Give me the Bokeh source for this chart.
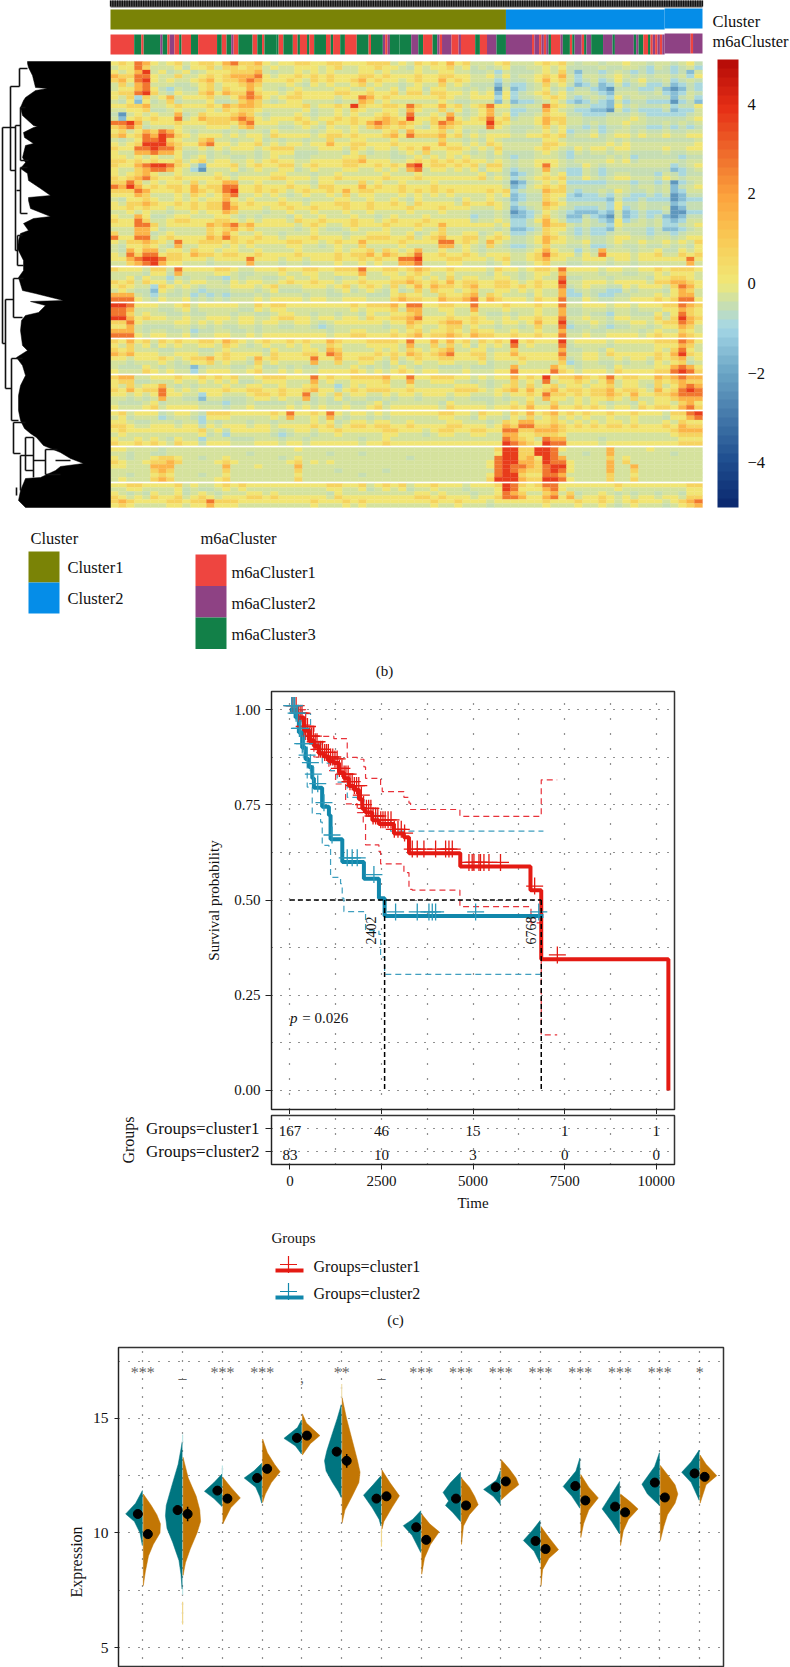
import math
import numpy as np
from bokeh.plotting import figure
from bokeh.embed import file_html
from bokeh.resources import INLINE
from bokeh.models import (Range1d, FixedTicker, LinearColorMapper, ColorBar, ColumnDataSource, Title)
from bokeh.core.properties import value

SERIF = "Liberation Serif"

# ---------- panel (b): heat map, read by eye on a coarse grid (one digit = one block) ----------
HEAT_LEVELS = [-2.2, -1.5, -1.0, -0.6, -0.35, 0.0, 0.8, 1.5, 2.6, 3.6]
HEAT_SECTIONS = [
 ["5658754564 5665786675 4556655665 5566645465 6575644456 4445656434 4344544344 3453",
  "4558644453 5564665664 5445554564 4556554354 5564534345 3344545333 3433443243 2342",
  "5457945345 3455566674 3445454544 4554544454 4554433424 3334546313 3234323233 2314",
  "7668854464 4565677785 4556565655 5665655565 5665544535 3445657424 4345434344 3425",
  "6758954544 5675667875 5565465655 6756554565 5756544424 3345756423 4235345334 2343",
  "4647844433 4564556764 4454354544 5645443454 4645433313 2234645312 3124234223 1232",
  "4557853243 3564655754 4345444455 4454453553 5544343404 1234534233 2103332231 0132",
  "5668964354 4675766865 5456555566 5565564664 6655454515 2345645344 3214443342 1243",
  "5462645745 5564457875 4566555545 5875655555 5654455525 2334565323 4325344333 1342",
  "4351534634 4453346764 3455444434 4764544444 4543344414 1223454212 3214233222 0231",
  "5566744565 5565767765 5555645565 9655665865 5756456855 3344865433 2215343334 2335",
  "4455633454 4454656654 4444534454 6544554754 4645345744 2233754322 1104232223 1224",
  "3045454473 4655567643 4445434454 5445654844 5474345745 2334655332 2233343222 2234",
  "4156565584 5766678754 5556545565 6556765955 6585456856 3445766443 3344454333 3345",
  "8897455565 5566657855 5445654655 6578767654 6876555965 4445756443 4344544334 3434",
  "6786344454 4455546744 4334543544 5467656543 5765444854 3334645332 3233433223 2323",
  "5645768754 3444343443 5444434554 5444564755 5645343444 3344545233 4234434334 3344",
  "6756879865 4555454554 6555545665 6555675866 6756454555 4455656344 5345545445 4455",
  "4345889654 4674434453 4344344644 5544454444 4644343543 3333554333 3343433333 3334",
  "5456999765 5785545564 5455455755 6655565555 5755454654 4444665444 4454544444 4445",
  "6558898864 4545455545 6664445554 6545545657 5566545464 4445654354 5545544445 4455",
  "5447787753 3434344434 5553334443 5434434546 4455434353 3334543243 4434433334 3344",
  "5545454453 4534433434 5443344445 5644433454 5454544343 2334443233 3343423333 3233",
  "6656565564 5645544545 6554455556 6755544565 6565655454 3445554344 4454534444 4344",
  "6557899865 3155564565 5664565556 6556565895 6656564664 3445854335 4344444444 2345",
  "5446788754 2044453454 4553454445 5445454784 5545453553 2334743224 3233333333 1234",
  "5456754454 4445434444 5544434454 4444544454 4444445343 1234545224 3234433324 3233",
  "6567865565 5556545555 6655545565 5555655565 5555556454 2345656335 4345544435 4344",
  "6686454554 6455774454 4454435544 4645445444 5444444443 0134545222 2233323323 0234",
  "8797565665 7566885565 5565546655 5756556555 6555555554 1245656333 3344434434 1345",
  "6668755565 7656895565 6545655657 5665556565 6565555656 2344766323 3435433434 1244",
  "5557644454 6545784454 5434544546 4554445454 5454444545 1233655212 2324322323 0133",
  "4355654454 5455754544 4544344455 4454454354 4443544543 1233654222 2214223222 0122",
  "5466765565 6566865655 5655455566 5565565465 5554655654 2344765333 3325334333 1233",
  "5565655455 6566875554 5565565556 5565555655 5655544454 1234654322 2325234334 0133",
  "4454544344 5455764443 4454454445 4454444544 4544433343 0123543211 1214123223 0022",
  "5447533455 4445543434 4435445444 5443454445 4444423343 1124643113 2104123231 0133",
  "6558644566 5556654545 5546556555 6554565556 5555534454 2235754224 3215234342 1244",
  "5558864555 5576786755 5554565445 6555655565 5755555545 2234766434 3325444342 2345",
  "4447753444 4465675644 4443454334 5444544454 4644444434 1123655323 2214333231 1234",
  "6447734544 4465754454 4344454443 4455544534 5644553454 2234654323 2234433233 2344",
  "8558845655 5576865565 5455565554 5566655645 6755664565 3345765434 3345544344 3455",
  "5466765485 5666565655 5566554565 5755556555 5885654754 3345755445 3345445445 4546",
  "4355654374 4555454544 4455443454 4644445444 4774543643 2234644334 2234334334 3435",
  "4375774554 6554554454 4445444454 5564654574 4544543444 3345754424 3744434453 3545",
  "5486885665 7665665565 5556555565 6675765685 5655654555 4456865535 4855545564 4656",
  "5578998665 5545555855 5455455565 5656558895 5566555456 4456755445 5545545555 5585",
  "4467897554 4434444744 4344344454 4545447784 4455444345 3345644334 4434434444 4474"],
 ["6555466485 5556654455 5655665566 6855665676 5565555465 5456658555 5455445565 6665",
  "4444355374 4445543344 4544554455 5744554565 4454444354 4345547444 4344334454 5554",
  "4453544243 4433243443 3454454434 4544455654 5464554455 4345448334 4434444355 6654",
  "6564655354 5544354554 4565565545 5655566765 6575665566 5456559445 5545555466 7765",
  "5654426545 4344455545 6444555456 4565464575 7665675566 5656558345 4433545554 6875",
  "4543315434 3233344434 5333444345 3454353464 6554564455 4545447234 3322434443 5764",
  "7774324334 2323233343 4444344334 4433356554 4655674654 4435447224 3223344454 5774",
  "8885435445 3434344454 5555455445 5544467665 5766785765 5546558335 4334455565 6885"],
 ["9985554456 4555554465 6655555555 6566675885 5665585556 5556558445 5545545556 6876",
  "8874443345 3444443354 5544444444 5455564774 4554474445 4445447334 4434434445 5765",
  "8864544334 3344434433 4554434434 4354455674 4454454334 3445447334 3324433353 5865",
  "9975655445 4455545544 5665545545 5465566785 5565565445 4556558445 4435544464 6976",
  "6685444455 4545445545 5445543455 5555455765 5677565545 5457559344 5434455456 6875",
  "5574333344 3434334434 4334432344 4444344654 4566454434 4346448233 4323344345 5764",
  "7774344334 2334433434 4444444344 5544454564 5565465544 5445447334 3344443454 4654",
  "8885455445 3445544545 5555555455 6655565675 6676576655 6556558445 4455554565 5765"],
 ["6575646565 5665765456 5565655765 5566665855 7575646565 9565559455 5545555566 6875",
  "5464535454 4554654345 4454544654 4455554744 6464535454 8454448344 4434444455 5764",
  "6564443344 4334544443 5444554764 4445454654 5674455344 6444447334 4354444454 6854",
  "7675554455 5445655554 6555665875 5556565765 6785566455 7555558445 5465555565 7965",
  "5545556545 6675655475 6555585575 5665464565 5665556455 5655557345 5445455465 6745",
  "4434445434 5564544364 5444474464 4554353454 4554445344 4544446234 4334344354 5634",
  "4333543433 1344433453 3434334444 5434345434 4333433344 7444475434 4435444455 7875",
  "5444654544 2455544564 4545445555 6545456545 5444544455 8555586545 5546555566 8986"],
 ["6774455565 5656564456 6655585655 6666755855 6665545455 7565956676 5685665576 7877",
  "5663344454 4545453345 5544474544 5555644744 5554434344 6454845565 4574554465 6766",
  "5464557434 3444544554 4544564424 5455544544 4445554345 6464564554 5564554364 5787",
  "6575668545 4555655665 5655675535 6566655655 5556665456 7575675665 6675665475 6898",
  "5545458554 4255444566 5655845464 5544545545 5545544454 5565866565 6676575566 7888",
  "4434347443 3144333455 4544734353 4433434434 4434433343 4454755454 5565464455 6777",
  "4333453444 4333233433 3343434334 3345344444 4354444344 5464464454 5434435455 4675",
  "5444564555 5444344544 4454545445 4456455555 5465555455 6575575565 6545546566 5786"],
 ["5645553455 4366655555 6585565854 5545455555 5665546554 6575675656 5565565554 6689",
  "4534442344 3255544444 5474454743 4434344444 4554435443 5464564545 4454454443 5578",
  "5543344434 4243444344 3444454534 5545544544 4455444346 5775565454 5455454445 4655",
  "6654455545 5354555455 4555565645 6656655655 5566555457 6886676565 6566565556 5766",
  "5655555555 5645355555 4345545565 5555665554 5665566558 8667776555 5555555555 6777",
  "4544444444 4534244444 3234434454 4444554443 4554455447 7556665444 4444444444 5666",
  "5445454354 4244433344 4344344444 4344544444 4444444448 7654877444 4344444444 4555",
  "6556565465 5355544455 5455455555 5455655555 5555555559 8765988555 5455555555 5666"],
 ["5544443444 4444444444 4445444444 4444444444 4444444469 9669985444 4474444544 4444",
  "4434433444 4444444344 4444444344 4344444444 4444444459 9669984443 4474444444 3444",
  "5434456654 4344544444 4345444444 4444444344 4444444489 9675987444 4464544444 4444",
  "6544566764 4445654444 4456454544 4444444444 4444444589 9776988544 4474644444 4444",
  "5544477744 4444744454 4447444444 4444444444 4444444589 8876899544 4474474444 4444",
  "4444467644 4444644444 4446444434 4444344444 4444444489 8766898544 4474464444 4444",
  "4434456544 4344544444 4445444444 4344444444 4444444589 9655887444 4464454444 4444",
  "4544467644 4445644444 4446444444 4444444444 4444444699 9766998544 4464464444 4444"],
 ["5566555564 5445656555 5555555665 5645656455 6555455569 8656885555 5556555555 5566",
  "4455444453 4334545444 4444444554 4534545344 5444344459 8555785444 4445444444 4455",
  "5434354453 4543444554 5444444354 4444444455 4544434458 7644674634 4543434434 4355",
  "6545465564 5654555665 6555555465 5555555566 5655545568 8755785745 5654545545 5466",
  "6765555665 6686665555 5555565556 5655555555 6556555455 5555655565 5654565554 5678",
  "5654444554 5575554444 4444454445 4544444444 5445444344 4444544454 4543454443 4567"],
]
CLUSTER_RUNS = [("Cluster1", 167), ("Cluster2", 83)]
M6A_RUNS = "R10 G3 R1 G7 P1 G2 R1 P2 R2 G1 R4 G3 R8 G2 R2 G2 P1 R2 G6 R2 G2 R1 G5 G1 R2 G4 R2 G1 R3 G1 R2 G5 R2 G1 R3 G2 R5 G5 R1 G5 P1 R1 P1 G4 G5 P3 G2 R4 G2 P1 R1 P4 R3 P1 R6 G2 R3 P4 G4 " \
           "P11 R1 P2 R1 P1 R1 P1 G1 R4 P1 G3 R1 G1 P3 R1 G1 P2 G5 P4 G1 P8 G1 P1 G2 R2 G1 R1 P1 R1 P1 R1 P1 P11 R1 P4"
M6A_NAMES = {"R": "m6aCluster1", "P": "m6aCluster2", "G": "m6aCluster3"}
CLUSTER_COLORS = {"Cluster1": "#7a8306", "Cluster2": "#058de8"}
M6A_COLORS = {"m6aCluster1": "#ee4540", "m6aCluster2": "#8e4284", "m6aCluster3": "#128048"}
N_MAIN = 250
N_EXTRA_START = 250 - 16  # the last block sits a pixel higher in the source

# row dendrogram: outline (row px, height = px left of the heat map)
DEND_Y = [61,63,67,75,87,88,90,97,100,107,115,125,126,127,132,137,143,145,157,162,168,173,180,188,195,197,200,208,216,218,223,230,233,240,248,260,267,
          270,277,290,293,300,301,305,312,315,320,330,345,350,357,365,375,385,395,410,420,428,433,437,445,452,458,463,466,470,477,478,490,500,507]
DEND_X = [27,27,28,32,35,47,35,25,23,20,22,33,37,33,23,24,33,25,22,25,20,27,28,40,50,28,28,30,50,33,23,28,20,18,17,23,23,
          23,18,22,35,63,30,45,38,25,21,20,22,27,16,22,25,20,18,18,20,24,30,36,43,60,70,83,60,55,40,25,20,18,25]
DEND_SEG = [(2,127,2,343),(2,127,15,127),(2,343,5,343),(15,125,15,250),(10,86,10,170),(10,86,19,86),(19,68,19,86),(19,68,27,68),
            (10,170,15,170),(20,107,20,160),(15,125,20,125),(20,107,25,107),(20,160,28,160),(20,167,20,213),(16,190,20,190),(20,167,27,167),
            (20,213,27,213),(15,250,17,250),(17,235,17,265),(17,235,22,235),(17,265,23,265),(13,278,13,317),(13,278,23,278),(13,317,22,317),(5,299,13,299),
            (5,299,5,388),(5,388,11,388),(11,358,11,420),(11,358,22,358),(11,420,18,420),(13,422,13,453),(13,422,25,422),(13,453,20,453),
            (20,455,20,490),(20,455,33,455),(16,487,16,495),(33,437,33,477),(33,460,45,460),(25,437,33,437),(25,437,25,470),(25,470,33,470),
            (45,449,45,474),(45,449,57,449),(45,474,60,474),(55,460,70,460)]

LEG_CLUSTER = ["Cluster1", "Cluster2"]
LEG_M6A = ["m6aCluster1", "m6aCluster2", "m6aCluster3"]
BAR_TICKS = [-4, -2, 0, 2, 4]

# ---------- panel (c): survival ----------
RED_T = [0,200,382,520,655,790,930,1065,1200,1340,1475,1610,1750,1885,1975,2065,2250,2430,2840,3110,3250,4650,6566,6860,10330]
RED_S = [1.0,.98,.945,.92,.905,.885,.877,.865,.86,.835,.82,.80,.79,.765,.74,.73,.71,.70,.675,.665,.623,.588,.526,.345,0.0]
BLUE_T = [0,155,245,335,428,520,610,655,880,1065,1110,1430,2020,2430,2585]
BLUE_S = [1.0,.98,.94,.90,.87,.85,.82,.795,.745,.723,.66,.60,.556,.505,.458]
BLUE_END = 6920
RED_CENS = [60,120,170,230,280,330,390,430,480,540,590,640,690,740,790,840,890,950,1000,1050,1110,1170,1230,1290,1350,1420,1480,1530,1590,1640,1700,1760,1820,1880,1950,2010,2090,2150,2210,2270,2340,2400,2480,2540,2600,2680,2760,2850,2950,3040,3130,3340,3476,3658,3977,4250,4341,4432,4887,4975,5023,5160,5202,5296,5433,5748,6680,7300]
BLUE_CENS = [50,90,130,170,210,260,300,350,400,470,560,640,760,930,1150,1565,1700,1838,2293,2885,3476,3795,3886,3977,5069,6793]
RU_T = [0,428,655,1200,1565,1838,2020,2065,2475,2520,3112,3250,3294,4640,6840,6860,7295]
RU_S = [1.0,.96,.93,.924,.875,.87,.85,.82,.80,.785,.77,.755,.738,.72,.72,.816,.816]
RL_T = [0,428,655,1065,1247,1520,1838,2002,2065,2430,2475,3112,3250,3340,4640,6580,6860,7295]
RL_S = [1.0,.92,.876,.84,.805,.753,.73,.70,.645,.628,.595,.572,.528,.526,.483,.44,.146,.146]
BU_T = [0,200,564,883,1110,1292,1566,1838,2020,2383,2748,6920]
BU_S = [1.0,.99,.91,.86,.84,.81,.77,.765,.74,.71,.681,.681]
BL_T = [0,337,473,610,838,883,1065,1110,1383,1428,1474,2020,2065,2430,2475,2585,6920]
BL_S = [1.0,.876,.797,.727,.705,.644,.64,.56,.543,.505,.47,.47,.42,.41,.35,.305,.305]
MEDIAN_POS = [2585, 6860]
MEDIAN_TXT = ["2402", "6768"]
RISK_TIMES = [0, 2500, 5000, 7500, 10000]
RISK_C1 = [167, 46, 15, 1, 1]
RISK_C2 = [83, 10, 3, 0, 0]

# ---------- panel (d): split violins: (expression, half width) ----------
TEAL = [
 [(11.85,0),(11.3,.17),(10.83,.42),(10.5,.2),(10.0,.06),(9.45,0)],
 [(13.95,0),(13,.1),(12,.27),(11.2,.4),(10.75,.42),(10.2,.38),(9.6,.24),(8.8,.08),(8.2,.03),(7.55,0)],
 [(12.57,0),(12.2,.2),(11.82,.44),(11.5,.2),(11.16,0)],
 [(13.04,0),(12.7,.2),(12.4,.44),(12.0,.15),(11.6,.05),(11.3,0)],
 [(14.93,0),(14.6,.1),(14.13,.44),(13.8,.15),(13.45,0)],
 [(15.6,0),(15,.1),(14.2,.25),(13.6,.36),(13.15,.42),(12.7,.38),(12.2,.22),(11.8,.07),(11.55,0)],
 [(12.5,0),(12.1,.2),(11.65,.44),(11.1,.22),(10.6,.05),(10.3,0)],
 [(10.97,0),(10.6,.2),(10.32,.44),(9.9,.22),(9.15,0)],
 [(12.65,0),(12.2,.25),(11.77,.44),(11.4,.3),(11.2,.38),(10.9,.2),(10.5,0)],
 [(12.72,0),(12.3,.1),(11.9,.42),(11.6,.18),(11.23,0)],
 [(10.54,0),(10.1,.2),(9.67,.42),(9.2,.15),(8.68,0)],
 [(13.27,0),(12.7,.1),(12.03,.42),(11.6,.2),(11.08,0)],
 [(12.25,0),(11.7,.2),(11.05,.44),(10.5,.2),(9.96,0)],
 [(13.5,0),(12.9,.12),(12.13,.44),(11.7,.3),(11.2,0)],
 [(13.62,0),(13.1,.2),(12.65,.44),(12.2,.2),(11.43,0)],
]
ORANGE = [
 [(11.7,0),(11.2,.2),(10.8,.34),(10.4,.43),(10.0,.42),(9.5,.25),(9.0,.13),(8.3,.05),(7.7,0)],
 [(13.3,0),(12.4,.13),(11.6,.33),(11,.42),(10.5,.44),(10,.35),(9.3,.18),(8.7,.06),(8.15,0)],
 [(12.43,0),(12,.2),(11.53,.44),(11.1,.2),(10.4,0)],
 [(14.1,0),(13.5,.12),(13,.3),(12.67,.44),(12.2,.22),(11.7,.07),(11.33,0)],
 [(15.2,0),(14.8,.1),(14.25,.44),(13.9,.2),(13.4,0)],
 [(15.9,0),(15,.11),(14,.26),(13.2,.38),(12.65,.45),(12.2,.42),(11.6,.25),(11,.07),(10.45,0)],
 [(12.75,0),(12.2,.2),(11.62,.44),(11.1,.25),(10.5,.05),(10.17,0)],
 [(10.83,0),(10.4,.2),(10.05,.44),(9.5,.22),(8.9,.07),(8.2,0)],
 [(12.4,0),(12,.2),(11.6,.33),(11.23,.42),(10.8,.2),(10.3,.05),(9.5,0)],
 [(13.2,0),(12.8,.2),(12.4,.37),(12.1,.44),(11.8,.22),(11.45,0)],
 [(10.28,0),(9.8,.2),(9.27,.44),(8.9,.2),(8.4,.04),(7.7,0)],
 [(12.55,0),(12,.2),(11.53,.44),(11,.2),(10.4,.07),(9.8,0)],
 [(11.7,0),(11.35,.25),(11.05,.44),(10.6,.2),(10.1,.07),(9.45,0)],
 [(12.95,0),(12.5,.2),(12.1,.37),(11.7,.44),(11.3,.37),(10.8,.18),(10.3,.09),(9.67,0)],
 [(13.4,0),(13,.15),(12.5,.42),(12.1,.15),(11.3,0)],
]
MEAN_TEAL = [10.83,11.0,11.85,12.4,14.15,13.55,11.5,10.25,11.5,12.0,9.65,12.05,11.15,12.2,12.6]
MEAN_ORANGE = [9.95,10.83,11.5,12.8,14.25,13.15,11.6,9.7,11.2,12.25,9.3,11.42,10.9,11.55,12.45]
ERR_TEAL = [.1,.2,.1,.1,.08,.15,.1,.1,.1,.1,.1,.1,.1,.1,.1]
ERR_ORANGE = [.15,.32,.1,.12,.1,.3,.1,.1,.1,.1,.1,.1,.1,.12,.1]
SIG = ["***","–","***","***",",","**","–","***","***","***","***","***","***","***","*"]
TAILS = [(2,"#f0d890",6.0,7.0),(2,"#bfe6e6",7.55,7.3),(7,"#f0d890",9.4,10.17),(6,"#f0e0b0",15.9,16.5),(2,"#bfe6e6",13.95,14.3),(3,"#bfe6e6",12.57,12.95)]

def bare(p):
    p.xaxis.visible = False
    p.yaxis.visible = False
    p.xgrid.visible = False
    p.ygrid.visible = False
    p.outline_line_color = None
    return p

# ===== figure A =====
PX = 592 / N_MAIN
ROW = 4.25
pa = bare(figure(width=790, height=680, x_range=Range1d(-110/PX, 680/PX), y_range=Range1d(680, 0),
                 output_backend="svg", toolbar_location=None, min_border=0))
pa.extra_x_ranges["height"] = Range1d(110, 110-790)
pa.extra_y_ranges["row"] = Range1d((680-61)/ROW, -61/ROW)

anchors_v = [-5,-4,-2,-1,-0.4,0,1,2,3,4,5]
anchors_c = [(12,42,112),(31,79,144),(108,166,198),(165,215,230),(205,224,168),(240,232,120),(249,202,85),(252,161,60),(238,106,43),(230,47,22),(184,13,8)]
pal = []
for t in np.linspace(-5, 5, 50):
    pal.append("#%02x%02x%02x" % tuple(int(round(np.interp(t, anchors_v, [c[k] for c in anchors_c]))) for k in range(3)))
mapper = LinearColorMapper(palette=pal, low=-5, high=5)

l, r, t, b, v = [], [], [], [], []
col_w = N_MAIN / 74
top_row = 0.0
GAP = 2 / ROW
for si, sec in enumerate(HEAT_SECTIONS):
    cell = 1.0 if si < 7 else 0.94
    for ri, s in enumerate(sec):
        s = s.replace(" ", "").ljust(74, "4")
        for ci, ch in enumerate(s[:74]):
            l.append(ci*col_w); r.append((ci+1)*col_w)
            t.append(top_row + ri*cell); b.append(top_row + (ri+1)*cell)
            v.append(HEAT_LEVELS[int(ch)])
    top_row += len(sec)*cell + GAP
src = ColumnDataSource(dict(l=l, r=r, t=t, b=b, v=v))
fm = {"field": "v", "transform": mapper}
pa.quad(left="l", right="r", top="t", bottom="b", source=src, fill_color=fm, line_color=fm, line_width=0.3, y_range_name="row")

# annotation bars
pos = 0
for name, n in CLUSTER_RUNS:
    pa.quad(left=pos, right=min(pos+n, N_EXTRA_START), top=9, bottom=29, fill_color=CLUSTER_COLORS[name], line_color=None)
    pos += n
pa.quad(left=N_EXTRA_START, right=N_MAIN, top=8, bottom=28, fill_color=CLUSTER_COLORS["Cluster2"], line_color=None)
pos = 0
for tok in M6A_RUNS.split():
    n = int(tok[1:])
    col = M6A_COLORS[M6A_NAMES[tok[0]]]
    dy = 1 if pos >= N_EXTRA_START else 0
    pa.quad(left=pos, right=pos+n, top=34-dy, bottom=54-dy, fill_color=col, line_color=None)
    pos += n
print("samples in bar:", pos)
# top column dendrogram leaves
pa.quad(left=0, right=N_MAIN, top=-1, bottom=7, fill_color="#5a5a5a", line_color=None)
xs_leaf = np.arange(0, N_MAIN+1)
pa.segment(x0=xs_leaf, x1=xs_leaf, y0=[-1]*len(xs_leaf), y1=[6]*len(xs_leaf), line_color="#111111", line_width=1.3)

# row dendrogram
dh = [110-x for x in DEND_X]
pa.patch(x=dh+[0, 0], y=DEND_Y+[507, 61], fill_color="black", line_color="black", line_width=0.5, x_range_name="height")
pa.segment(x0=[110-s[0] for s in DEND_SEG], y0=[s[1] for s in DEND_SEG], x1=[110-s[2] for s in DEND_SEG], y1=[s[3] for s in DEND_SEG],
           line_color="#111111", line_width=1.6, x_range_name="height")

def txt(p, x, y, s, size="16.5px", align="left", base="middle", color="#111111", style="normal", **kw):
    p.text(x=[x], y=[y], text=[s], text_font=value(SERIF), text_font_size=size, text_align=align, text_baseline=base,
           text_color=color, text_font_style=style, **kw)

def px(xp):  # page px -> main x units, for layout items only
    return (xp-110)/PX
txt(pa, px(712), 21, "Cluster")
txt(pa, px(712), 41, "m6aCluster")
txt(pa, px(30), 538, "Cluster")
txt(pa, px(200), 538, "m6aCluster")
for i, name in enumerate(LEG_CLUSTER):
    pa.quad(left=px(28), right=px(59), top=551+31*i, bottom=582+31*i, fill_color=CLUSTER_COLORS[name], line_color=None)
    txt(pa, px(67), 567+31*i, name)
for i, name in enumerate(LEG_M6A):
    pa.quad(left=px(195), right=px(226), top=554+31.5*i, bottom=585.5+31.5*i, fill_color=M6A_COLORS[name], line_color=None)
    txt(pa, px(231), 572+31*i, name)
txt(pa, px(384), 670, "(b)", size="15px", align="center")

cb = ColorBar(color_mapper=mapper, location=(717, 173), width=21, height=448, padding=0, margin=0,
              ticker=FixedTicker(ticks=BAR_TICKS), major_tick_line_color=None, minor_tick_line_color=None,
              bar_line_color=None, border_line_color=None, background_fill_color=None,
              major_label_text_font=SERIF, major_label_text_font_size="16.5px", major_label_text_color="#111111",
              label_standoff=9, major_label_overrides={k: str(k).replace("-", "−") for k in BAR_TICKS})
pa.add_layout(cb, "center")

# ===== figure B: survival =====
def style_axis(ax, size="15px"):
    ax.major_label_text_font = SERIF
    ax.major_label_text_font_size = size
    ax.major_label_text_color = "#111111"
    ax.axis_label_text_font = SERIF
    ax.axis_label_text_font_size = size
    ax.axis_label_text_font_style = "normal"
    ax.axis_label_text_color = "#111111"
    ax.minor_tick_line_color = None
    ax.axis_line_color = "#222222"
    ax.major_tick_line_color = "#222222"
    ax.major_tick_in = 0

def dots(p, xt, yt, xd="1 14", yd="1 8"):
    p.xgrid.ticker = FixedTicker(ticks=xt)
    p.ygrid.ticker = FixedTicker(ticks=yt)
    p.xgrid.grid_line_color = "#222222"
    p.ygrid.grid_line_color = "#222222"
    p.xgrid.grid_line_dash = xd
    p.ygrid.grid_line_dash = yd
    p.xgrid.grid_line_width = 1.2
    p.ygrid.grid_line_width = 1.2

XR = (-502, 10497)
pb = figure(width=790, height=434, x_range=Range1d(*XR), y_range=Range1d(-0.05, 1.048), output_backend="svg", toolbar_location=None,
            min_border_left=271, min_border_right=116, min_border_top=11, min_border_bottom=5)
pb.outline_line_color = "#333333"; pb.outline_line_width = 1.5
dots(pb, [0,1250,2500,3750,5000,6250,7500,8750,10000], [0,.125,.25,.375,.5,.625,.75,.875,1.0])
pb.xaxis.ticker = FixedTicker(ticks=RISK_TIMES)
pb.yaxis.ticker = FixedTicker(ticks=[0,.25,.5,.75,1.0])
pb.yaxis.major_label_overrides = {0:"0.00",.25:"0.25",.5:"0.50",.75:"0.75",1.0:"1.00"}
pb.yaxis.axis_label = "Survival probability"
style_axis(pb.xaxis[0]); style_axis(pb.yaxis[0])
pb.xaxis.major_label_overrides = {k: "" for k in RISK_TIMES}
pb.xaxis.major_label_standoff = 0; pb.xaxis.major_tick_out = 5
pb.yaxis.major_tick_out = 6; pb.yaxis.major_label_standoff = 5; pb.yaxis.axis_label_standoff = 9

RED = "#e41a13"; BLUE = "#1187ab"
pb.step(x=RU_T, y=RU_S, mode="after", line_color="#e8323a", line_width=1.2, line_dash="6 4")
pb.step(x=RL_T, y=RL_S, mode="after", line_color="#e8323a", line_width=1.2, line_dash="6 4")
pb.step(x=BU_T, y=BU_S, mode="after", line_color="#3f9fbf", line_width=1.2, line_dash="6 4")
pb.step(x=BL_T, y=BL_S, mode="after", line_color="#3f9fbf", line_width=1.2, line_dash="6 4")
pb.step(x=RED_T, y=RED_S, mode="after", line_color=RED, line_width=4)
pb.step(x=BLUE_T+[BLUE_END], y=BLUE_S+[BLUE_S[-1]], mode="after", line_color=BLUE, line_width=4)
def surv_at(ts, T, S):
    return [S[int(np.searchsorted(T, x, side="right"))-1] for x in ts]
pb.scatter(x=RED_CENS, y=[s+.011 for s in surv_at(RED_CENS, RED_T, RED_S)], marker="cross", size=17, line_color=RED, line_width=1.3)
pb.scatter(x=BLUE_CENS, y=[s+.011 for s in surv_at(BLUE_CENS, BLUE_T, BLUE_S)], marker="cross", size=17, line_color="#2a97b8", line_width=1.3)
pb.line(x=[0, MEDIAN_POS[1]], y=[.5, .5], line_color="black", line_width=1.5, line_dash="5 3")
pb.segment(x0=MEDIAN_POS, x1=MEDIAN_POS, y0=[.5,.5], y1=[0,0], line_color="black", line_width=1.5, line_dash="5 3")
pb.text(x=[float(m) for m in MEDIAN_TXT], y=[.42,.42], text=MEDIAN_TXT, angle=math.pi/2, text_font=value(SERIF), text_font_size="14px",
        text_align="center", text_baseline="middle", text_color="#111111", x_offset=-7)
txt(pb, 0, .19, "p", size="15px", style="italic")
txt(pb, 230, .19, "= 0.026", size="15px", x_offset=4)

# ===== figure C: numbers at risk =====
pc = figure(width=790, height=101, x_range=Range1d(*XR), y_range=Range1d(0.435, 2.565), output_backend="svg", toolbar_location=None,
            min_border_left=271, min_border_right=116, min_border_top=1, min_border_bottom=51)
pc.outline_line_color = "#333333"; pc.outline_line_width = 1.5
dots(pc, [0,1250,2500,3750,5000,6250,7500,8750,10000], [1,2])
pc.xaxis.ticker = FixedTicker(ticks=RISK_TIMES)
pc.yaxis.ticker = FixedTicker(ticks=[1,2])
pc.yaxis.major_label_overrides = {1:"Groups=cluster2", 2:"Groups=cluster1"}
pc.xaxis.axis_label = "Time"; pc.yaxis.axis_label = "Groups"
style_axis(pc.xaxis[0]); style_axis(pc.yaxis[0])
pc.xaxis.major_tick_out = 5; pc.xaxis.major_label_standoff = 6; pc.xaxis.axis_label_standoff = 6
pc.yaxis.major_tick_out = 6; pc.yaxis.major_label_standoff = 6; pc.yaxis.axis_label_standoff = 6
pc.yaxis.major_label_text_font_size = "17px"; pc.yaxis.axis_label_text_font_size = "16px"
pc.text(x=RISK_TIMES, y=[2]*5, text=[str(n) for n in RISK_C1], text_font=value(SERIF), text_font_size="15px", text_align="center", text_baseline="middle", y_offset=3, text_color="#111111")
pc.text(x=RISK_TIMES, y=[1]*5, text=[str(n) for n in RISK_C2], text_font=value(SERIF), text_font_size="15px", text_align="center", text_baseline="middle", y_offset=3, text_color="#111111")

# ===== figure D: legend of (c) =====
pd_ = bare(figure(width=790, height=120, x_range=Range1d(0, 790), y_range=Range1d(1335, 1215), output_backend="svg", toolbar_location=None, min_border=0))
txt(pd_, 271, 1237, "Groups", size="15px")
for yy, nm, col in [(1270, "Groups=cluster1", RED), (1297, "Groups=cluster2", BLUE)]:
    pd_.line(x=[275, 303], y=[yy, yy], line_color=col, line_width=4)
    pd_.scatter(x=[288], y=[yy-6], marker="cross", size=17, line_color=col, line_width=1.2)
    txt(pd_, 313, yy-4, nm, size="16px")
txt(pd_, 395, 1319, "(c)", size="15px", align="center")

# ===== figure E: violins =====
VT = 22.93
pe = figure(width=790, height=332, x_range=Range1d(0.388, 15.6), y_range=Range1d(5-(1667-1647)/VT, 15+(1418-1347)/VT), output_backend="svg", toolbar_location=None,
            min_border_left=118, min_border_right=67, min_border_top=12, min_border_bottom=0)
pe.outline_line_color = "#333333"; pe.outline_line_width = 1.5
pe.xaxis.visible = False
dots(pe, list(range(1, 16)), [5, 7.5, 10, 12.5, 15, 17.5], xd="1 8", yd="1 9")
pe.yaxis.ticker = FixedTicker(ticks=[5, 10, 15])
style_axis(pe.yaxis[0], "15.5px")
pe.yaxis.major_tick_out = 4; pe.yaxis.major_label_standoff = 6
G = 0.012
for i in range(15):
    c = i + 1
    tv = [p[0] for p in TEAL[i]]; tw = [p[1] for p in TEAL[i]]
    ov = [p[0] for p in ORANGE[i]]; ow = [p[1] for p in ORANGE[i]]
    pe.patch(x=[c-G-w for w in tw], y=tv, fill_color="#007580", line_color="#007580", line_width=0.5)
    pe.patch(x=[c+G+w for w in ow], y=ov, fill_color="#c27604", line_color="#c27604", line_width=0.5)
for gene, col, a, bb in TAILS:
    pe.line(x=[gene, gene], y=[a, bb], line_color=col, line_width=1.2)
xs = np.arange(1, 16)
pe.segment(x0=xs-.126, x1=xs-.126, y0=np.array(MEAN_TEAL)-ERR_TEAL, y1=np.array(MEAN_TEAL)+ERR_TEAL, line_color="black", line_width=1.5)
pe.segment(x0=xs+.126, x1=xs+.126, y0=np.array(MEAN_ORANGE)-ERR_ORANGE, y1=np.array(MEAN_ORANGE)+ERR_ORANGE, line_color="black", line_width=1.5)
pe.scatter(x=xs-.126, y=MEAN_TEAL, size=9, fill_color="black", line_color="black")
pe.scatter(x=xs+.126, y=MEAN_ORANGE, size=9, fill_color="black", line_color="black")
pe.text(x=xs, y=[17.0 if "*" in s else 16.8 for s in SIG], text=SIG, text_font=value(SERIF), text_font_size="16px", text_color="#666666", text_align="center", text_baseline="alphabetic")
pe.add_layout(Title(text="Expression", align="left", offset=70, text_font=SERIF, text_font_size="16px", text_font_style="normal", text_color="#111111"), "left")

# separate roots, so that the frames keep their own borders
roots = [pa, pb, pc, pd_, pe]
open("out.html", "w").write(file_html(roots, INLINE))
